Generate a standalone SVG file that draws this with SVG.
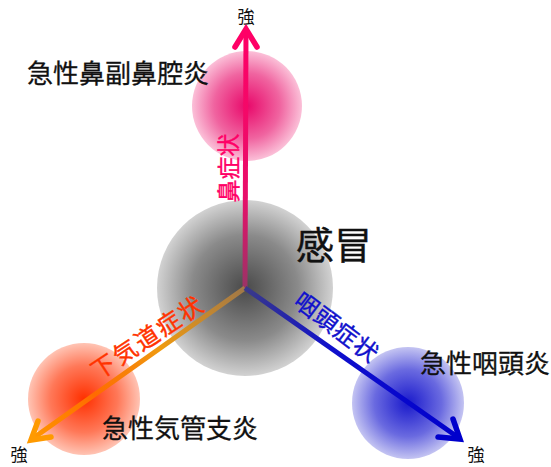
<svg xmlns="http://www.w3.org/2000/svg" width="551" height="467" viewBox="0 0 551 467">
<style>
text{font-family:"Noto Sans CJK JP","Noto Sans CJK SC",sans-serif;}
.t{font-size:26px;fill:#111;stroke:#111;stroke-width:0.3;}
.s{font-size:17px;fill:#111;}
.ax{font-size:24px;stroke-width:0.4;}
.ln{fill:none;stroke-width:5;}
.hd{fill:none;stroke-width:5.5;stroke-linejoin:miter;stroke-linecap:round;}
</style>
<defs>
<radialGradient id="gGray"><stop offset="0" stop-color="#4a4a4a"/><stop offset="0.6" stop-color="#8a8a8a"/><stop offset="1" stop-color="#d2d2d2"/></radialGradient>
<radialGradient id="gPink"><stop offset="0" stop-color="#e8086a"/><stop offset="0.6" stop-color="#f064a0"/><stop offset="1" stop-color="#fbc0d8"/></radialGradient>
<radialGradient id="gRed"><stop offset="0" stop-color="#ff3000"/><stop offset="0.6" stop-color="#ff7858"/><stop offset="1" stop-color="#ffc4b4"/></radialGradient>
<radialGradient id="gBlue"><stop offset="0" stop-color="#1a1acc"/><stop offset="0.6" stop-color="#6a6ae0"/><stop offset="1" stop-color="#c4c4f2"/></radialGradient>
<linearGradient id="lUp" gradientUnits="userSpaceOnUse" x1="245" y1="288" x2="246" y2="28"><stop offset="0" stop-color="#9a3366"/><stop offset="0.35" stop-color="#e8106a"/><stop offset="1" stop-color="#ff0066"/></linearGradient>
<linearGradient id="lLeft" gradientUnits="userSpaceOnUse" x1="245" y1="288" x2="30" y2="440"><stop offset="0" stop-color="#a07848"/><stop offset="0.4" stop-color="#f09a10"/><stop offset="0.7" stop-color="#ff6a00"/><stop offset="1" stop-color="#ff9a00"/></linearGradient>
<linearGradient id="lRight" gradientUnits="userSpaceOnUse" x1="245" y1="288" x2="461" y2="439"><stop offset="0" stop-color="#3a3a88"/><stop offset="0.4" stop-color="#1010cc"/><stop offset="1" stop-color="#0000cc"/></linearGradient>
</defs>

<g id="node-kaze">
<circle cx="245" cy="288" r="88" fill="url(#gGray)"/>
<text x="296" y="259" style="font-size:38px;fill:#111;stroke:#111;stroke-width:0.4;">感冒</text>
</g>
<g id="node-bikuu">
<circle cx="247" cy="106" r="55" fill="url(#gPink)"/>
<text class="t" x="27" y="83">急性鼻副鼻腔炎</text>
</g>
<g id="node-kikan">
<circle cx="84" cy="399" r="56" fill="url(#gRed)"/>
<text class="t" x="102" y="438">急性気管支炎</text>
</g>
<g id="node-intou">
<circle cx="408" cy="403" r="56" fill="url(#gBlue)"/>
<text class="t" x="420" y="373">急性咽頭炎</text>
</g>

<g id="connectors">
<line class="ln" x1="245" y1="288" x2="246" y2="30" stroke="url(#lUp)"/>
<path class="hd" d="M235 47 L246 29 L257 47" stroke="#ff0066"/>
<line class="ln" x1="245" y1="288" x2="32" y2="439" stroke="url(#lLeft)"/>
<path class="hd" d="M38 421 L31 440 L51 437" stroke="#ff9a00"/>
<line class="ln" x1="245" y1="288" x2="459" y2="438" stroke="url(#lRight)"/>
<path class="hd" d="M438 437 L460 439 L453 419" stroke="#0000cc"/>
<text class="ax" transform="translate(228,168) rotate(-90)" y="8.5" text-anchor="middle" style="fill:#ff0066;stroke:#ff0066;font-size:23px;">鼻症状</text>
<text class="ax" transform="translate(147,338) rotate(-33.5)" x="1" y="8.5" text-anchor="middle" style="fill:#ff3300;stroke:#ff3300;letter-spacing:2px;">下気道症状</text>
<text class="ax" transform="translate(336,327) rotate(37)" x="0.5" y="8.5" text-anchor="middle" style="fill:#1010cc;stroke:#1010cc;letter-spacing:0.6px;">咽頭症状</text>
<text class="s" x="246" y="23" text-anchor="middle">強</text>
<text class="s" x="19" y="461" text-anchor="middle">強</text>
<text class="s" x="476" y="461" text-anchor="middle">強</text>
</g>
</svg>
